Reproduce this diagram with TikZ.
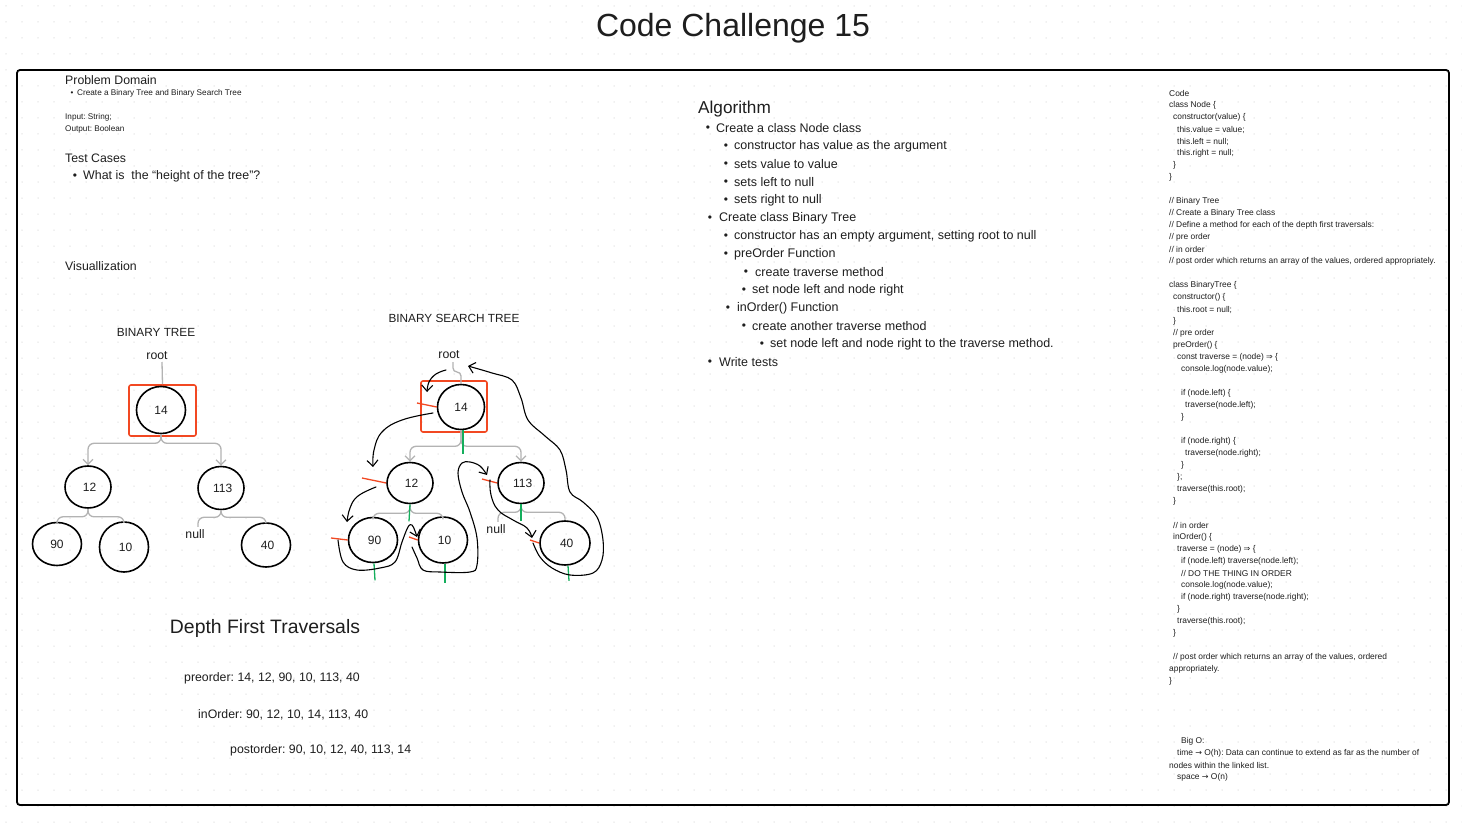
\documentclass[tikz,border=0pt]{standalone}
\usepackage{fontspec}
\setmainfont{Liberation Sans}
\newfontfamily\symf{DejaVu Sans}
\usetikzlibrary{shapes.geometric,arrows.meta,calc}
\definecolor{fred}{HTML}{F24822}
\definecolor{fgreen}{HTML}{14AE5C}
\definecolor{fgray}{HTML}{B3B3B3}
\definecolor{fdot}{HTML}{E2E2E2}
\definecolor{ftext}{HTML}{1E1E1E}
\frenchspacing
\newcommand\fs[1]{\fontsize{#1}{#1}\selectfont}
\newcommand\cl[3]{\node[codetxt] (c#2) at (1169+#1*4,#2) {#3};}
\newcommand\bl[4]{\node[algtxt] (a#3) at (#2,#3) {#4}; \node[bul] (b#3) at (#1,#3) {•};}
\newcommand\arr{{\symf\fs{8}⇒}}
\newcommand\sarr{{\symf\fs{8}→}}
\begin{document}
\begin{tikzpicture}[x=1pt,y=-1pt,
  txt/.style={anchor=west,inner sep=0pt,text=ftext,yshift=-1.5pt},
  ctxt/.style={inner sep=0pt,text=ftext,yshift=-1.5pt},
  codetxt/.style={txt,font=\fs{8.4}},
  algtxt/.style={txt,font=\fs{12.5}},
  bul/.style={inner sep=0pt,text=ftext,font=\fs{12},yshift=-1.5pt},
  tn/.style={ellipse,draw=black,line width=1.6pt,inner sep=0pt,text=ftext,font=\fs{12}},
  rbox/.style={draw=fred,line width=1.6pt,rounded corners=2pt,inner sep=0pt},
  conn/.style={draw=fgray,line width=1.3pt,rounded corners=6pt},
  carr/.style={-{Straight Barb[length=5pt,width=10pt]}},
  hand/.style={draw=black,line width=1.1pt,line cap=round,line join=round},
  harr/.style={-{Straight Barb[length=6pt,width=11pt]}},
  rmark/.style={draw=fred,line width=1.3pt},
  gmark/.style={draw=fgreen,line width=1.3pt}]
\useasboundingbox (0,0) rectangle (1462,824);
\fill[white] (0,0) rectangle (1462,824);
\foreach \i in {0,...,91} \foreach \j in {0,...,51} \fill[fdot] (6+\i*16,6+\j*16) circle (0.75);

% title and frame
\node[inner sep=0pt,text=ftext,font=\fs{32}] (title) at (733,28) {Code Challenge 15};
\draw[line width=1.8pt,rounded corners=3pt] (17,70) rectangle (1449,805);

% problem domain
\node[txt,font=\fs{12.3}] (pd) at (65,79) {Problem Domain};
\node[bul,font=\fs{8}] (pdb) at (72,92) {•};
\node[txt,font=\fs{8.2}] (pd1) at (77,92) {Create a Binary Tree and Binary Search Tree};
\node[txt,font=\fs{8.2}] (in) at (65,116) {Input: String;};
\node[txt,font=\fs{8.2}] (out) at (65,128) {Output: Boolean};
\node[txt,font=\fs{12.3}] (tc) at (65,157) {Test Cases};
\node[bul] (tcb) at (75,175) {•};
\node[txt,font=\fs{12.4}] (tc1) at (83,175) {What is\ \ the “height of the tree”?};
\node[txt,font=\fs{12.3}] (vis) at (65,265) {Visuallization};

% binary tree
\node[ctxt,font=\fs{11.8}] (btl) at (156,331) {BINARY TREE};
\node[ctxt,font=\fs{12.3}] (root1) at (157,354) {root};
\node[rbox,minimum width=67,minimum height=51] (box1) at (162.5,410.5) {};
\node[tn,minimum width=49,minimum height=47] (t14) at (161,410) {14};
\node[tn,minimum width=46,minimum height=42] (t12) at (88,487) {\ 12};
\node[tn,minimum width=46,minimum height=43] (t113) at (221,488) {\ 113};
\node[tn,minimum width=49,minimum height=43] (t90) at (57,544) {90};
\node[tn,minimum width=49,minimum height=50] (t10) at (124,547) {\ 10};
\node[tn,minimum width=49,minimum height=44] (t40) at (266,545) {\ 40};
\node[ctxt,font=\fs{12.3}] (null1) at (195,533) {null};
\draw[conn] (162,362) -- (box1.north);
\draw[conn,carr] (t14.south) -- ++(0,9) -| (t12.north);
\draw[conn,carr] (t14.south) -- ++(0,9) -| (t113.north);
\draw[conn] (t12.south) -- ++(0,8) -| (t90.north);
\draw[conn] (t12.south) -- ++(0,8) -| (t10.north);
\draw[conn] (t113.south) -- ++(0,7) -| ($(null1.north)+(3,-3)$);
\draw[conn] (t113.south) -- ++(0,7) -| (t40.north);

% binary search tree
\node[ctxt,font=\fs{11.8}] (bstl) at (454,317) {BINARY SEARCH TREE};
\node[ctxt,font=\fs{12.3}] (root2) at (449,353) {root};
\node[rbox,minimum width=66,minimum height=51] (box2) at (454,406.5) {};
\node[tn,minimum width=47,minimum height=45] (s14) at (461,407) {14};
\node[tn,minimum width=46,minimum height=41] (s12) at (410,483) {\ 12};
\node[tn,minimum width=46,minimum height=41] (s113) at (521,483) {\ 113};
\node[tn,minimum width=49,minimum height=45] (s90) at (373,540) {\ 90};
\node[tn,minimum width=49,minimum height=46] (s10) at (443,540) {\ 10};
\node[tn,minimum width=50,minimum height=44] (s40) at (565,543) {\ 40};
\node[ctxt,font=\fs{12.3}] (null2) at (496,528) {null};
\draw[conn,rounded corners=4pt] (453,362) -- ++(0,10) -| (s14.north);
\draw[conn,carr] (s14.south) -- ++(0,16) -| (s12.north);
\draw[conn,carr] (s14.south) -- ++(0,16) -| (s113.north);
\draw[conn] (s12.south) -- ++(0,9) -| (s90.north);
\draw[conn] (s12.south) -- ++(0,9) -| (s10.north);
\draw[conn] (s113.south) -- ++(0,8) -| ($(null2.north)+(2,-3)$);
\draw[conn] (s113.south) -- ++(0,8) -| (s40.north);

% green marks
\draw[gmark] (s14.south) ++(2,0) -- ++(0,24);
\draw[gmark] (s12.south) -- ++(-1,17);
\draw[gmark] (s113.south) -- ++(0,17);
\draw[gmark] (s90.south) ++(1,0) -- ++(1,17);
\draw[gmark] (s10.south) ++(2,0) -- ++(0,19);
\draw[gmark] (s40.south) ++(3,0) -- ++(1,15);
% red marks
\draw[rmark] (417,403) -- (s14.west);
\draw[rmark] (362,478) -- (s12.west);
\draw[rmark] (331,538) -- (s90.west);
\draw[rmark] (409,537) -- (s10.west);
\draw[rmark] (482,479) -- (s113.west);
\draw[rmark] (530,540) -- (s40.west);

% hand-drawn traversal
\draw[hand,harr] plot[smooth,tension=0.7] coordinates {(446,370) (436,374) (429,382) (427,392)};
\draw[hand,harr] plot[smooth,tension=0.7] coordinates {(433,413) (402,420) (382,432) (374,450) (373,467)};
\draw[hand,harr] plot[smooth,tension=0.7] coordinates {(376,487) (358,496) (350,508) (347,522)};
\draw[hand,harr] plot[smooth,tension=0.6] coordinates {(338,540) (343,562) (357,570) (380,568) (395,562) (402,542) (408,527) (412,525) (415,531) (417,537)};
\draw[hand,harr] plot[smooth,tension=0.6] coordinates {(412,547) (417,558) (423,570) (440,572) (470,572) (477,565) (477,538) (470,512) (462,492) (458,473) (462,463) (470,462) (480,466) (487,475)};
\draw[hand,harr] plot[smooth,tension=0.7] coordinates {(490,480) (491,495) (498,510) (513,520) (527,528) (532,538)};
\draw[hand,harr] plot[smooth,tension=0.6] coordinates {(533,543) (540,557) (552,568) (570,575) (593,573) (602,560) (603,540) (597,517) (583,502) (570,492) (566,470) (560,450) (545,436) (528,420) (521,398) (512,380) (492,373) (468,366)};

% depth first traversals
\node[ctxt,font=\fs{19.4}] (dft) at (265,627) {Depth First Traversals};
\node[txt,font=\fs{12.3}] (pre) at (184,677) {preorder: 14, 12, 90, 10, 113, 40};
\node[txt,font=\fs{12.3}] (ino) at (198,713) {inOrder: 90, 12, 10, 14, 113, 40};
\node[txt,font=\fs{12.3}] (post) at (230,749) {postorder: 90, 10, 12, 40, 113, 14};

% algorithm
\node[txt,font=\fs{17.2}] (alg) at (698,108) {Algorithm};
\bl{708}{716}{127}{Create a class Node class}
\bl{726}{734}{145}{constructor has value as the argument}
\bl{726}{734}{163}{sets value to value}
\bl{726}{734}{181}{sets left to null}
\bl{726}{734}{199}{sets right to null}
\bl{710}{719}{217}{Create class Binary Tree}
\bl{726}{734}{235}{constructor has an empty argument, setting root to null}
\bl{726}{734}{253}{preOrder Function}
\bl{746}{755}{271}{create traverse method}
\bl{744}{752}{289}{set node left and node right}
\bl{728}{737}{307}{inOrder() Function}
\bl{744}{752}{325}{create another traverse method}
\bl{762}{770}{343}{set node left and node right to the traverse method.}
\bl{710}{719}{361}{Write tests}

% code
\cl{0}{92}{Code}
\cl{0}{104}{class Node \{}
\cl{1}{116}{constructor(value) \{}
\cl{2}{128}{this.value = value;}
\cl{2}{140}{this.left = null;}
\cl{2}{152}{this.right = null;}
\cl{1}{164}{\}}
\cl{0}{176}{\}}
\cl{0}{200}{// Binary Tree}
\cl{0}{212}{// Create a Binary Tree class}
\cl{0}{224}{// Define a method for each of the depth first traversals:}
\cl{0}{236}{// pre order}
\cl{0}{248}{// in order}
\cl{0}{260}{// post order which returns an array of the values, ordered appropriately.}
\cl{0}{284}{class BinaryTree \{}
\cl{1}{296}{constructor() \{}
\cl{2}{308}{this.root = null;}
\cl{1}{320}{\}}
\cl{1}{332}{// pre order}
\cl{1}{344}{preOrder() \{}
\cl{2}{356}{const traverse = (node) \arr\ \{}
\cl{3}{368}{console.log(node.value);}
\cl{3}{392}{if (node.left) \{}
\cl{4}{404}{traverse(node.left);}
\cl{3}{416}{\}}
\cl{3}{440}{if (node.right) \{}
\cl{4}{452}{traverse(node.right);}
\cl{3}{464}{\}}
\cl{2}{476}{\};}
\cl{2}{488}{traverse(this.root);}
\cl{1}{500}{\}}
\cl{1}{524}{// in order}
\cl{1}{536}{inOrder() \{}
\cl{2}{548}{traverse = (node) \arr\ \{}
\cl{3}{560}{if (node.left) traverse(node.left);}
\cl{3}{572}{// DO THE THING IN ORDER}
\cl{3}{584}{console.log(node.value);}
\cl{3}{596}{if (node.right) traverse(node.right);}
\cl{2}{608}{\}}
\cl{2}{620}{traverse(this.root);}
\cl{1}{632}{\}}
\cl{1}{656}{// post order which returns an array of the values, ordered}
\cl{0}{668}{appropriately.}
\cl{0}{680}{\}}
\cl{3}{740}{Big O:}
\cl{2}{752}{time \sarr\ O(h): Data can continue to extend as far as the number of}
\cl{0}{764}{nodes within the linked list.}
\cl{2}{776}{space \sarr\ O(n)}
\end{tikzpicture}
\end{document}
